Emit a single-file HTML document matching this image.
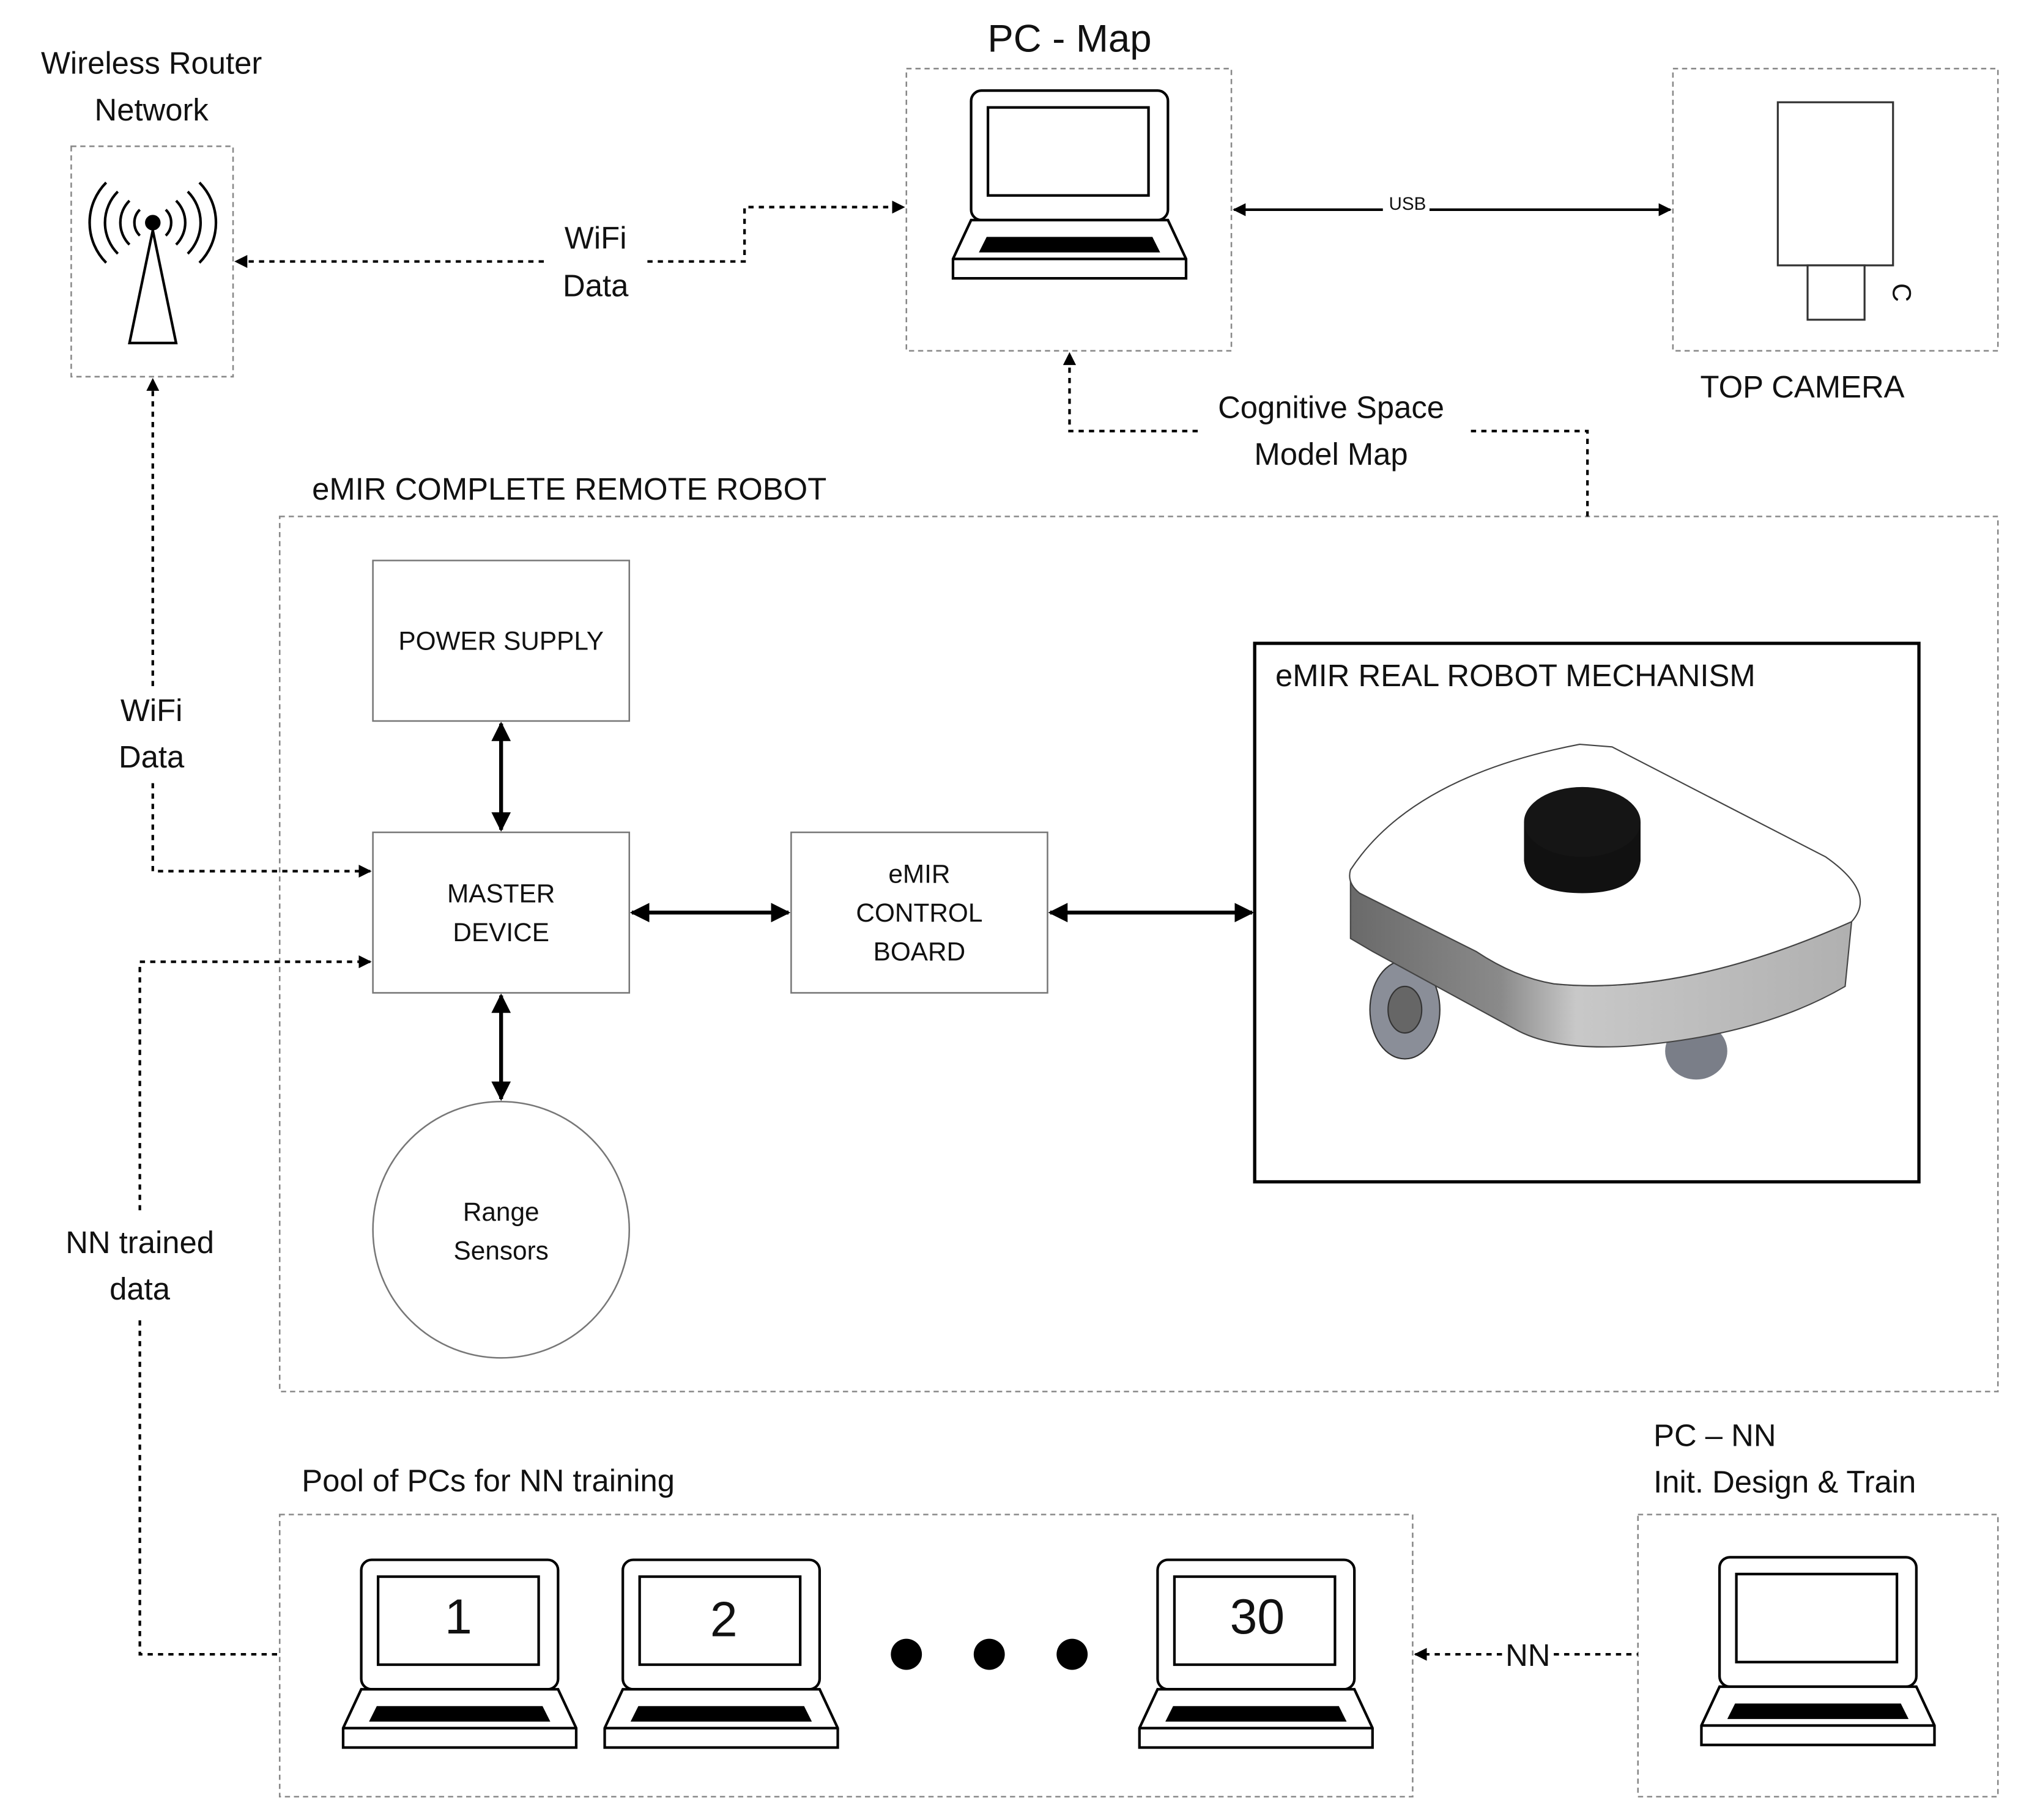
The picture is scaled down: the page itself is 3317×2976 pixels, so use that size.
<!DOCTYPE html>
<html><head><meta charset="utf-8"><style>
html,body{margin:0;padding:0;background:#fff}
svg{display:block}
text{font-family:"Liberation Sans","DejaVu Sans",sans-serif;fill:#111}
</style></head><body>
<svg width="3317" height="2976" viewBox="0 0 1567 1406" preserveAspectRatio="none" xmlns="http://www.w3.org/2000/svg">
<defs>
<marker id="a" viewBox="0 0 10 10" refX="9" refY="5" markerWidth="5" markerHeight="5" orient="auto-start-reverse"><path d="M0,0L10,5L0,10Z" fill="#000"/></marker>
<linearGradient id="side" x1="0" x2="1"><stop offset="0" stop-color="#6a6a6a"/><stop offset="0.3" stop-color="#8a8a8a"/><stop offset="0.45" stop-color="#c8c8c8"/><stop offset="1" stop-color="#b0b0b0"/></linearGradient>
<g id="lap">
<rect x="14" y="0" width="152" height="100" rx="8" fill="#fff" stroke="#000" stroke-width="2"/>
<rect x="27" y="13" width="124" height="68" fill="#fff" stroke="#000" stroke-width="2"/>
<path d="M14,100 L166,100 L180,130 L180,145 L0,145 L0,130 Z" fill="#fff" stroke="#000" stroke-width="2"/>
<line x1="0" y1="130" x2="180" y2="130" stroke="#000" stroke-width="2"/>
<path d="M26,113 L154,113 L160,125 L20,125 Z" fill="#000"/>
</g>
</defs>
<g fill="none" stroke="#888" stroke-width="1.2" stroke-dasharray="4,3">
<rect x="55" y="113" width="125" height="178"/>
<rect x="700" y="53" width="251" height="218"/>
<rect x="1292" y="53" width="251" height="218"/>
<rect x="216" y="399" width="1327" height="676"/>
<rect x="216" y="1170" width="875" height="218"/>
<rect x="1265" y="1170" width="278" height="218"/>
</g>
<g font-size="24" text-anchor="middle">
<text x="117" y="57">Wireless Router</text>
<text x="117" y="93">Network</text>
<text x="826" y="40" font-size="30">PC - Map</text>
<text x="1392" y="307">TOP CAMERA</text>
<text x="460" y="192">WiFi</text>
<text x="460" y="229">Data</text>
<text x="1028" y="323">Cognitive Space</text>
<text x="1028" y="359">Model Map</text>
<text x="117" y="557">WiFi</text>
<text x="117" y="593">Data</text>
<text x="108" y="968">NN trained</text>
<text x="108" y="1004">data</text>
<text x="1180" y="1287">NN</text>
</g>
<g font-size="24">
<text x="241" y="386">eMIR COMPLETE REMOTE ROBOT</text>
<text x="985" y="530">eMIR REAL ROBOT MECHANISM</text>
<text x="233" y="1152">Pool of PCs for NN training</text>
<text x="1277" y="1117">PC – NN</text>
<text x="1277" y="1153">Init. Design &amp; Train</text>
</g>
<g stroke="#000" stroke-width="2" fill="none">
<path d="M118,178 L100,265 L136,265 Z" fill="#fff"/>
<circle cx="118" cy="172" r="5" fill="#000"/>
<path d="M108,162 A14,14 0 0,0 108,182 M128,162 A14,14 0 0,1 128,182"/>
<path d="M100,155 A24,24 0 0,0 100,189 M136,155 A24,24 0 0,1 136,189"/>
<path d="M91,148 A34,34 0 0,0 91,196 M145,148 A34,34 0 0,1 145,196"/>
<path d="M82,141 A44,44 0 0,0 82,203 M154,141 A44,44 0 0,1 154,203"/>
</g>
<use href="#lap" x="736" y="70"/>
<rect x="1373" y="79" width="89" height="126" fill="#fff" stroke="#333" stroke-width="1.5"/>
<rect x="1396" y="205" width="44" height="42" fill="#fff" stroke="#333" stroke-width="1.5"/>
<text x="1462" y="226" font-size="20" transform="rotate(90 1462 226)" text-anchor="middle">C</text>
<g stroke="#000" stroke-width="2" fill="none">
<line x1="953" y1="162" x2="1290" y2="162" marker-start="url(#a)" marker-end="url(#a)"/>
<line x1="387" y1="559" x2="387" y2="641" marker-start="url(#a)" marker-end="url(#a)" stroke-width="3"/>
<line x1="387" y1="769" x2="387" y2="849" marker-start="url(#a)" marker-end="url(#a)" stroke-width="3"/>
<line x1="488" y1="705" x2="609" y2="705" marker-start="url(#a)" marker-end="url(#a)" stroke-width="3"/>
<line x1="811" y1="705" x2="967" y2="705" marker-start="url(#a)" marker-end="url(#a)" stroke-width="3"/>
</g>
<rect x="1068" y="150" width="36" height="14" fill="#fff"/>
<text x="1087" y="162" font-size="14" text-anchor="middle">USB</text>
<g stroke="#000" stroke-width="2" fill="none" stroke-dasharray="4,4">
<path d="M420,202 L182,202" marker-end="url(#a)"/>
<path d="M500,202 L575,202 L575,160 L698,160" marker-end="url(#a)"/>
<path d="M1226,399 L1226,333 L1135,333"/>
<path d="M925,333 L826,333 L826,273" marker-end="url(#a)"/>
<path d="M118,530 L118,293" marker-end="url(#a)"/>
<path d="M118,605 L118,673 L286,673" marker-end="url(#a)"/>
<path d="M108,935 L108,743 L286,743" marker-end="url(#a)"/>
<path d="M108,1020 L108,1278 L216,1278"/>
<path d="M1160,1278 L1093,1278" marker-end="url(#a)"/>
<path d="M1200,1278 L1265,1278"/>
</g>
<g fill="#fff" stroke="#777" stroke-width="1.2">
<rect x="288" y="433" width="198" height="124"/>
<rect x="288" y="643" width="198" height="124"/>
<rect x="611" y="643" width="198" height="124"/>
<circle cx="387" cy="950" r="99"/>
</g>
<g font-size="20" text-anchor="middle">
<text x="387" y="502">POWER SUPPLY</text>
<text x="387" y="697">MASTER</text>
<text x="387" y="727">DEVICE</text>
<text x="710" y="682">eMIR</text>
<text x="710" y="712">CONTROL</text>
<text x="710" y="742">BOARD</text>
<text x="387" y="943">Range</text>
<text x="387" y="973">Sensors</text>
</g>
<rect x="969" y="497" width="513" height="416" fill="none" stroke="#000" stroke-width="2.5"/>
<ellipse cx="1085" cy="780" rx="27" ry="38" fill="#8a8e98" stroke="#333"/>
<ellipse cx="1085" cy="780" rx="13" ry="18" fill="#666" stroke="#333"/>
<ellipse cx="1310" cy="812" rx="24" ry="22" fill="#7a7e88"/>
<path d="M1043,672 L1043,725 L1060,735 L1170,795 Q1200,812 1260,808 Q1360,800 1425,762 L1430,712 Q1300,770 1200,760 Q1170,755 1140,735 L1050,690 Z" fill="url(#side)" stroke="#444" stroke-width="1"/>
<path d="M1043,672 Q1090,600 1220,575 L1245,577 L1410,662 Q1450,690 1430,712 Q1300,770 1200,760 Q1170,755 1140,735 L1050,690 Q1040,682 1043,672 Z" fill="#fff" stroke="#444" stroke-width="1"/>
<path d="M1177,635 L1177,665 Q1180,690 1222,690 Q1264,690 1267,665 L1267,635 Z" fill="#111"/>
<ellipse cx="1222" cy="635" rx="45" ry="27" fill="#151515"/>
<use href="#lap" x="265" y="1205"/>
<use href="#lap" x="467" y="1205"/>
<use href="#lap" x="880" y="1205"/>
<use href="#lap" x="1314" y="1203"/>
<g font-size="38" text-anchor="middle">
<text x="354" y="1262">1</text>
<text x="559" y="1264">2</text>
<text x="971" y="1262">30</text>
</g>
<circle cx="700" cy="1278" r="12" fill="#000"/>
<circle cx="764" cy="1278" r="12" fill="#000"/>
<circle cx="828" cy="1278" r="12" fill="#000"/>
</svg>
</body></html>
